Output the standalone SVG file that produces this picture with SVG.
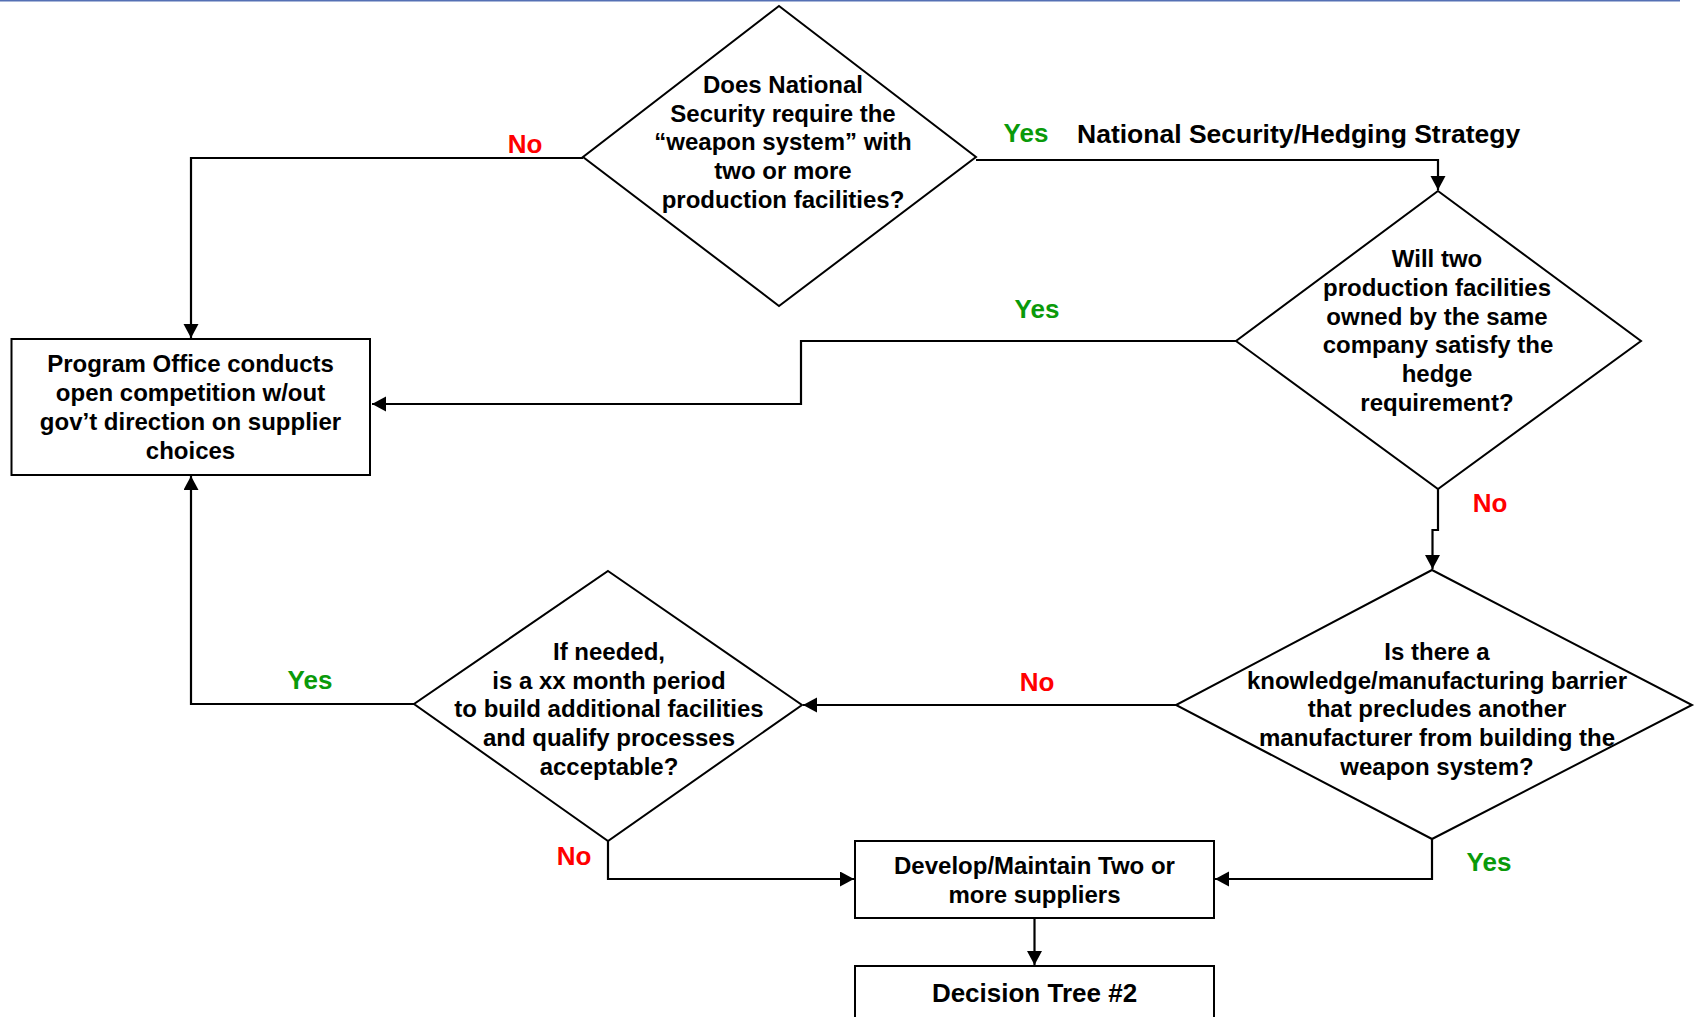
<svg xmlns="http://www.w3.org/2000/svg" width="1695" height="1017" viewBox="0 0 1695 1017">
<style>
.shape{fill:#fff;stroke:#000;stroke-width:2}
.conn{fill:none;stroke:#000;stroke-width:2.2}
.t{font-family:"Liberation Sans",Arial,sans-serif;font-weight:bold;font-size:24px;fill:#000;text-anchor:middle}
.lbl{font-family:"Liberation Sans",Arial,sans-serif;font-weight:bold;font-size:26px;text-anchor:middle}
.yes{fill:#0a9a0a}
.no{fill:#ff0000}
</style>
<defs>
<marker id="arr" markerWidth="16" markerHeight="16" refX="14" refY="7.5" orient="auto" markerUnits="userSpaceOnUse">
<path d="M0,0 L14,7.5 L0,15 z" fill="#000"/>
</marker>
</defs>
<rect width="1695" height="1017" fill="#fff"/>
<line x1="0" y1="0.75" x2="1680" y2="0.75" stroke="#5570b4" stroke-width="1.5"/>

<g id="connectors">
<path class="conn" d="M583,158 H191 V338" marker-end="url(#arr)"/>
<path class="conn" d="M976,160 H1438 V190" marker-end="url(#arr)"/>
<path class="conn" d="M1236,341 H801 V404 H372" marker-end="url(#arr)"/>
<path class="conn" d="M1438,489 V530 H1432.5 V569" marker-end="url(#arr)"/>
<path class="conn" d="M1176,705 H803" marker-end="url(#arr)"/>
<path class="conn" d="M414,704 H191 V476" marker-end="url(#arr)"/>
<path class="conn" d="M608,841 V879 H854" marker-end="url(#arr)"/>
<path class="conn" d="M1432,839 V879 H1215" marker-end="url(#arr)"/>
<path class="conn" d="M1034.5,918 V965" marker-end="url(#arr)"/>
<text class="lbl no" x="525" y="153">No</text>
<text class="lbl yes" x="1026" y="142">Yes</text>
<text class="lbl" x="1077" y="143" style="text-anchor:start;fill:#000;font-size:26.5px">National Security/Hedging Strategy</text>
<text class="lbl yes" x="1037" y="318">Yes</text>
<text class="lbl no" x="1490" y="512">No</text>
<text class="lbl no" x="1037" y="691">No</text>
<text class="lbl yes" x="310" y="689">Yes</text>
<text class="lbl no" x="574" y="865">No</text>
<text class="lbl yes" x="1489" y="871">Yes</text>
</g>

<g id="q-national-security">
<polygon class="shape" points="779,6 976,157 779,306 583,157"/>
<text class="t" x="783" y="93">Does National</text>
<text class="t" x="783" y="122">Security require the</text>
<text class="t" x="783" y="150">“weapon system” with</text>
<text class="t" x="783" y="179">two or more</text>
<text class="t" x="783" y="208">production facilities?</text>
</g>

<g id="program-office">
<rect class="shape" x="11.5" y="339" width="358.5" height="136"/>
<text class="t" x="190.5" y="372">Program Office conducts</text>
<text class="t" x="190.5" y="401">open competition w/out</text>
<text class="t" x="190.5" y="430">gov’t direction on supplier</text>
<text class="t" x="190.5" y="459">choices</text>
</g>

<g id="q-two-facilities">
<polygon class="shape" points="1438,191 1641,341 1438,489 1236,341"/>
<text class="t" x="1437" y="267">Will two</text>
<text class="t" x="1437" y="296">production facilities</text>
<text class="t" x="1437" y="325">owned by the same</text>
<text class="t" x="1438" y="353">company satisfy the</text>
<text class="t" x="1437" y="382">hedge</text>
<text class="t" x="1437" y="411">requirement?</text>
</g>

<g id="q-barrier">
<polygon class="shape" points="1432,570 1692,705 1432,839 1176,705"/>
<text class="t" x="1437" y="660">Is there a</text>
<text class="t" x="1437" y="689">knowledge/manufacturing barrier</text>
<text class="t" x="1437" y="717">that precludes another</text>
<text class="t" x="1437" y="746">manufacturer from building the</text>
<text class="t" x="1437" y="775">weapon system?</text>
</g>

<g id="q-month-period">
<polygon class="shape" points="608,571 802,705 608,841 414,704"/>
<text class="t" x="609" y="660">If needed,</text>
<text class="t" x="609" y="689">is a xx month period</text>
<text class="t" x="609" y="717">to build additional facilities</text>
<text class="t" x="609" y="746">and qualify processes</text>
<text class="t" x="609" y="775">acceptable?</text>
</g>

<g id="develop-suppliers">
<rect class="shape" x="855" y="841" width="359" height="77"/>
<text class="t" x="1034.5" y="874">Develop/Maintain Two or</text>
<text class="t" x="1034.5" y="903">more suppliers</text>
</g>

<g id="decision-tree-2">
<rect class="shape" x="855" y="966" width="359" height="70"/>
<text class="t" x="1034.5" y="1002" style="font-size:26px">Decision Tree #2</text>
</g>
</svg>
